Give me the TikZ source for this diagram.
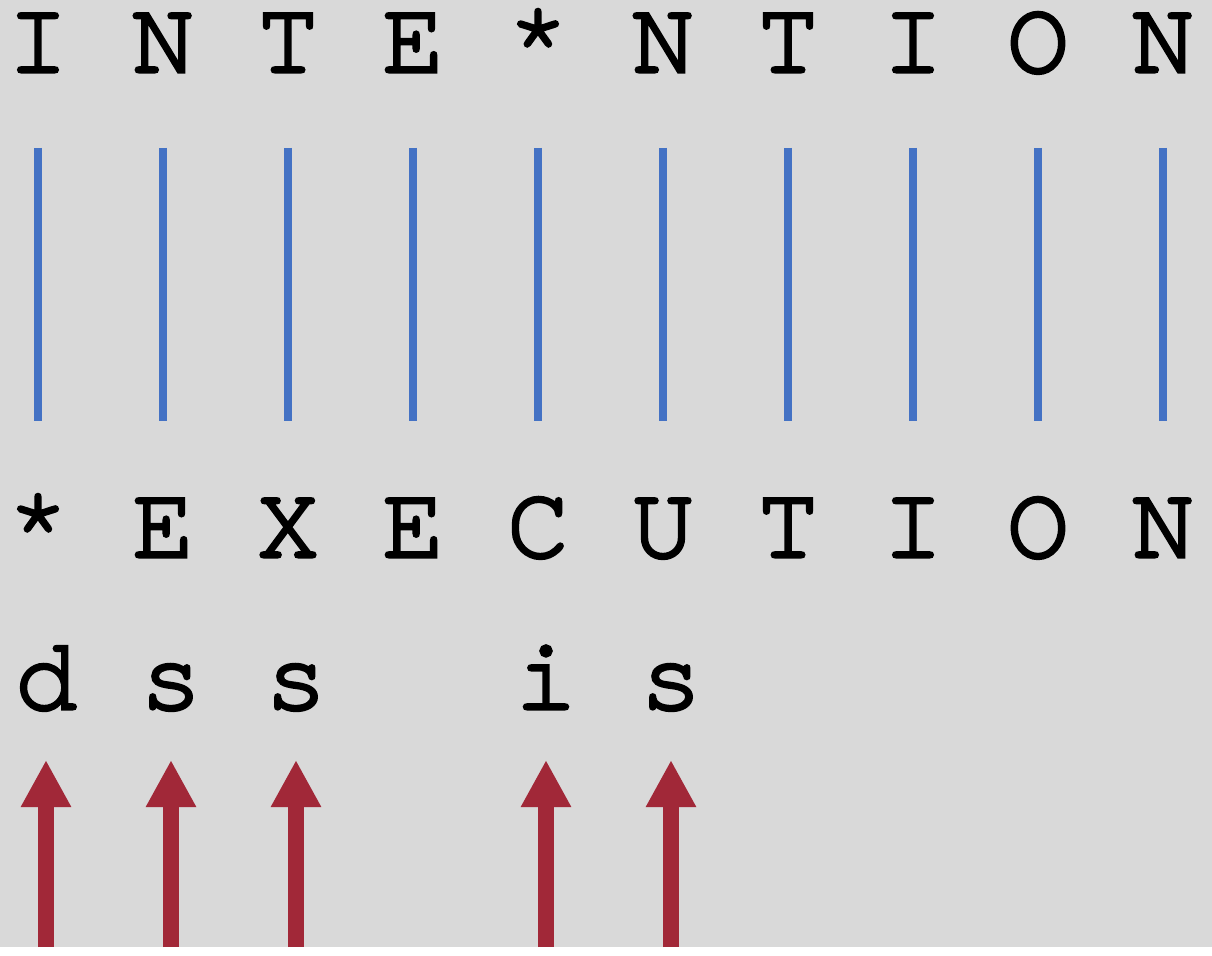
\documentclass[tikz,border=0pt]{standalone}
\usepackage{fontspec}
\newfontfamily\cursorfont{TeX Gyre Cursor}[FakeBold=3]
\usetikzlibrary{arrows.meta}
\definecolor{bgcolor}{HTML}{D9D9D9}
\definecolor{linkcolor}{HTML}{4472C4}
\definecolor{opcolor}{HTML}{A12838}

\begin{document}
\begin{tikzpicture}[
  letter/.style={anchor=base, inner sep=0pt, text height=1.3cm, text depth=0pt, font=\cursorfont\fontsize{59}{59}\selectfont},
  link/.style={linkcolor, line width=0.16cm},
  oparr/.style={-{Triangle[width=0.94cm, length=0.94cm]}, opcolor, line width=0.32cm},
]
  \fill[bgcolor] (0,0) rectangle (24.24,18.94);

  % source and target strings
  \foreach \c [count=\i from 0] in {I,N,T,E,*,N,T,I,O,N} {
    \node[letter] (t\i) at (0.76+2.5*\i, 17.50) {\c};
  }
  \foreach \c [count=\i from 0] in {*,E,X,E,C,U,T,I,O,N} {
    \node[letter] (b\i) at (0.76+2.5*\i, 7.80) {\c};
  }

  % edit operations
  \foreach \c/\i in {d/0, s/1, s/2, i/4, s/5} {
    \node[letter] (o\i) at (0.92+2.5*\i, 4.76) {\c};
  }

  \foreach \i in {0,...,9} {
    \draw[link] ([yshift=-1.52cm]t\i.base) -- ([yshift=2.72cm]b\i.base);
  }
  \foreach \i in {0,1,2,4,5} {
    \draw[oparr] ([yshift=-4.76cm]o\i.base) -- ([yshift=-1.02cm]o\i.base);
  }
\end{tikzpicture}
\end{document}
